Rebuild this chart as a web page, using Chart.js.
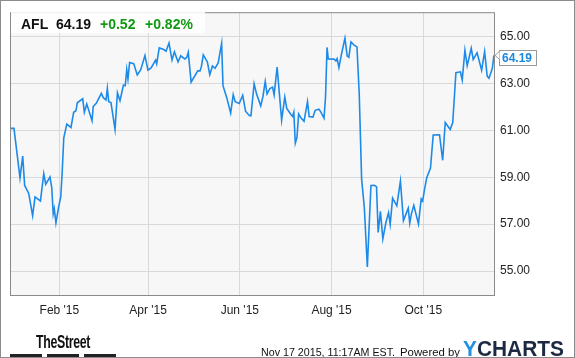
<!DOCTYPE html>
<html><head><meta charset="utf-8">
<script src="https://cdn.jsdelivr.net/npm/chart.js@4.4.1/dist/chart.umd.min.js"></script>
<style>
html,body{margin:0;padding:0;background:#fff;}
#wrap{position:relative;width:575px;height:358px;overflow:hidden;font-family:"Liberation Sans",Arial,sans-serif;}
#frame{position:absolute;left:0;top:0;width:575px;height:358px;box-sizing:border-box;border:1px solid #8c8c8c;pointer-events:none;}
canvas{position:absolute;left:0;top:0;}
#hdr{position:absolute;left:11px;top:11px;width:194px;height:22px;background:rgba(255,255,255,0.85);}
.t{position:absolute;white-space:nowrap;line-height:16px;transform-origin:0 50%;}
.b{font-weight:bold;font-size:14px;top:16px;}
.bar{position:absolute;top:354px;height:3px;width:32px;background:#222;}
</style></head>
<body>
<div id="wrap">
  <canvas id="c" width="575" height="358"></canvas>
  <div id="hdr"></div>
  <span class="t b" id="sym" style="left:21px;color:#111"></span>
  <span class="t b" id="px" style="left:56px;color:#111"></span>
  <span class="t b" id="chg" style="left:100px;color:#119911"></span>
  <span class="t b" id="pct" style="left:145px;color:#119911"></span>
  <span class="t" id="street" style="left:36px;top:332px;font-family:'Liberation Sans Narrow','Liberation Sans',Arial;font-weight:bold;font-size:18px;line-height:20px;color:#111;letter-spacing:-0.5px">TheStreet</span>
  <div class="bar" style="left:10px"></div>
  <div class="bar" style="left:47px"></div>
  <div class="bar" style="left:84px"></div>
  <span class="t" id="stamp" style="left:261px;top:344px;font-size:11px;color:#111">Nov 17 2015, 11:17AM EST.</span>
  <span class="t" id="pow" style="left:400px;top:344px;font-size:11px;color:#111">Powered by</span>
  <span class="t" id="yc" style="left:463px;top:337px;font-size:22px;line-height:24px;font-weight:bold;"><span style="color:#1e8fe1">Y</span><span style="color:#1b2a42">CHARTS</span></span>
  <div id="frame"></div>
</div>
<script>
// ---- data ----
const symbol = "AFL";
const lastPrice = 64.19;
const change = "+0.52";
const changePct = "+0.82%";
const days = [-1.5, 0.8, 4.8, 6.6, 7.9, 10.6, 13.2, 14.8, 18.4, 20.6,
  21.9, 24.75, 25.9, 26.9, 27.6, 28.7, 30.5, 31.9, 32.9, 33.9,
  35.9, 38.7, 40.5, 42, 42.9, 46.5, 47.6, 49.2, 52.7, 53.5,
  55.5, 58.9, 60.2, 62, 62.9, 63.8, 65.3, 68, 69.6, 71.3,
  73.6, 74.8, 75.8, 76.6, 77.7, 80.4, 82.8, 85.1, 87.9, 89.9,
  92, 95, 95.7, 97.4, 100.4, 101.9, 103.9, 105.9, 107.5, 109.9,
  111.7, 114.4, 115.7, 116.7, 118.6, 123, 124.5, 125.4, 126.7, 129.4,
  131, 132.8, 134.5, 136.6, 138.9, 139.8, 142.3, 144.9, 146.6, 147.9,
  150.6, 152.9, 154.8, 157.3, 158.4, 160.5, 162.2, 164.9, 166.4, 167.9,
  169.1, 171, 172.8, 173.8, 175.8, 178.8, 180.9, 182.2, 185.1, 186.1,
  186.9, 187.9, 189, 190.1, 191.7, 193.7, 196, 197.1, 199.6, 201.1,
  203.6, 205, 207, 208, 209, 209.8, 213.6, 214.9, 215.7, 216.9,
  218.5, 220.9, 222.4, 223.5, 224.9, 227, 228.9, 230.4, 232, 233.8,
  235.8, 238.2, 240.4, 241.9, 243, 244.5, 246.1, 248.2, 249.9, 251,
  252.6, 255.4, 257.8, 259.8, 263, 264, 265.1, 266.7, 269.8, 271.6,
  272.6, 273.8, 275.3, 277.8, 279.6, 283.8, 285.9, 287.6, 290.9, 292.6,
  294.7, 297.7, 298.9, 300.7, 302.2, 304.9, 306.2, 308.8, 311.8, 313.8,
  315.5, 316.7, 318.9, 320];
const prices = [61.08, 61.08, 58.97, 59.90, 58.65, 58.31, 57.36, 58.16, 57.99, 59.15,
  58.70, 59.01, 58.56, 57.44, 57.66, 57.06, 57.74, 58.16, 59.26, 60.67,
  61.26, 61.12, 61.77, 61.83, 62.17, 62.34, 61.77, 62.12, 61.41, 62.01,
  62.15, 62.57, 62.39, 62.29, 62.79, 62.22, 62.18, 61.04, 62.60, 62.26,
  62.93, 62.90, 63.59, 63.19, 63.89, 63.84, 63.36, 63.58, 64.18, 63.56,
  63.66, 63.99, 63.83, 64.51, 64.44, 64.37, 64.72, 63.99, 64.34, 63.91,
  64.17, 64.04, 64.10, 64.32, 63.05, 63.53, 63.53, 63.70, 64.21, 63.91,
  63.37, 63.74, 63.64, 63.87, 64.70, 62.90, 62.39, 61.73, 62.52, 62.22,
  62.14, 62.49, 61.81, 61.63, 61.62, 62.98, 62.53, 62.04, 62.45, 63.08,
  62.55, 62.78, 62.84, 62.51, 63.69, 61.43, 62.42, 61.93, 61.66, 61.59,
  61.77, 60.45, 60.70, 61.70, 61.52, 61.38, 62.22, 61.58, 61.56, 61.85,
  61.90, 61.76, 61.52, 62.43, 64.53, 64.04, 64.03, 63.95, 64.05, 63.67,
  64.21, 64.92, 64.16, 64.11, 64.76, 64.63, 64.55, 62.57, 58.92, 57.70,
  55.18, 58.65, 58.66, 58.60, 56.65, 57.55, 56.37, 57.08, 57.49, 56.99,
  58.11, 57.78, 58.84, 57.15, 57.68, 57.04, 57.44, 57.80, 57.01, 58.08,
  57.99, 58.46, 58.98, 59.39, 60.80, 60.81, 59.72, 61.33, 61.03, 61.33,
  63.45, 63.49, 63.14, 64.41, 63.75, 64.49, 64.02, 64.30, 63.56, 64.35,
  63.31, 63.22, 63.63, 64.19];
const monthTicks = [31, 90, 151, 212, 273];
const monthLabels = ["Feb '15", "Apr '15", "Jun '15", "Aug '15", "Oct '15"];
const priceTicks = [55, 57, 59, 61, 63, 65];
const priceLabels = ["55.00", "57.00", "59.00", "61.00", "63.00", "65.00"];

document.getElementById('sym').textContent = symbol;
document.getElementById('px').textContent = lastPrice.toFixed(2);
document.getElementById('chg').textContent = change;
document.getElementById('pct').textContent = changePct;

function fit(id, w) {
  const el = document.getElementById(id);
  const r = el.getBoundingClientRect().width;
  if (r > 0) el.style.transform = 'scaleX(' + (w / r) + ')';
}
fit('street', 54); fit('stamp', 134); fit('pow', 60); fit('yc', 101);

const FONT = "'Liberation Sans', Arial, sans-serif";

const frame = {
  id: 'frame',
  beforeDraw(chart) {
    const {ctx, chartArea: a} = chart;
    ctx.save();
    ctx.fillStyle = '#f7f7f7';
    ctx.fillRect(a.left, a.top, a.right - a.left, a.bottom - a.top);
    ctx.restore();
  },
  afterDraw(chart) {
    const {ctx, chartArea: a} = chart;
    ctx.save();
    ctx.strokeStyle = '#8a8a8a';
    ctx.lineWidth = 1;
    ctx.strokeRect(a.left + 0.5, a.top + 0.5, a.right - a.left - 1, a.bottom - a.top - 1);
    // last value flag
    const ys = chart.scales.y;
    const ty = ys.getPixelForValue(prices[prices.length - 1]);
    const tx = a.right;
    const bx = tx + 4.5, bt = Math.round(ty - 5.5) + 0.5, bw = 37, bh = 15;
    ctx.fillStyle = '#fff';
    ctx.fillRect(bx, bt, bw, bh);
    ctx.strokeStyle = '#999';
    ctx.strokeRect(bx, bt, bw, bh);
    ctx.beginPath();
    ctx.moveTo(bx, ty - 4);
    ctx.lineTo(tx, ty);
    ctx.lineTo(bx, ty + 4);
    ctx.fillStyle = '#fff';
    ctx.fill();
    ctx.stroke();
    ctx.fillStyle = '#1a88e0';
    ctx.font = 'bold 12px ' + FONT;
    ctx.textAlign = 'left';
    ctx.textBaseline = 'alphabetic';
    ctx.fillText(prices[prices.length - 1].toFixed(2), bx + 2.5, bt + 11.5);
    ctx.restore();
  }
};

new Chart(document.getElementById('c'), {
  type: 'line',
  data: {
    datasets: [{
      data: days.map((d, i) => ({x: d, y: prices[i]})),
      borderColor: '#1e8ae8',
      borderWidth: 1.6,
      pointRadius: 0,
      tension: 0,
      fill: false
    }]
  },
  options: {
    responsive: false,
    animation: false,
    devicePixelRatio: 1,
    layout: {padding: {left: 10, top: 10, right: 0, bottom: 0}},
    plugins: {legend: {display: false}, tooltip: {enabled: false}},
    scales: {
      x: {
        type: 'linear',
        min: -1.85, max: 320.7,
        afterBuildTicks: s => { s.ticks = monthTicks.map(v => ({value: v})); },
        afterFit: s => { s.height = 62; },
        grid: {color: '#d9d9d9', drawTicks: false},
        border: {display: false},
        ticks: {
          padding: 7, maxRotation: 0, autoSkip: false,
          color: '#222', font: {size: 12, family: FONT},
          callback: (v) => monthLabels[monthTicks.indexOf(v)]
        }
      },
      y: {
        position: 'right',
        min: 53.94, max: 66.03,
        afterBuildTicks: s => { s.ticks = priceTicks.map(v => ({value: v})); },
        afterFit: s => { s.width = 80; },
        grid: {color: '#d9d9d9', drawTicks: false},
        border: {display: false},
        ticks: {
          padding: 5,
          color: '#222', font: {size: 12, family: FONT},
          callback: (v) => priceLabels[priceTicks.indexOf(v)]
        }
      }
    }
  },
  plugins: [frame]
});
</script>
</body></html>
